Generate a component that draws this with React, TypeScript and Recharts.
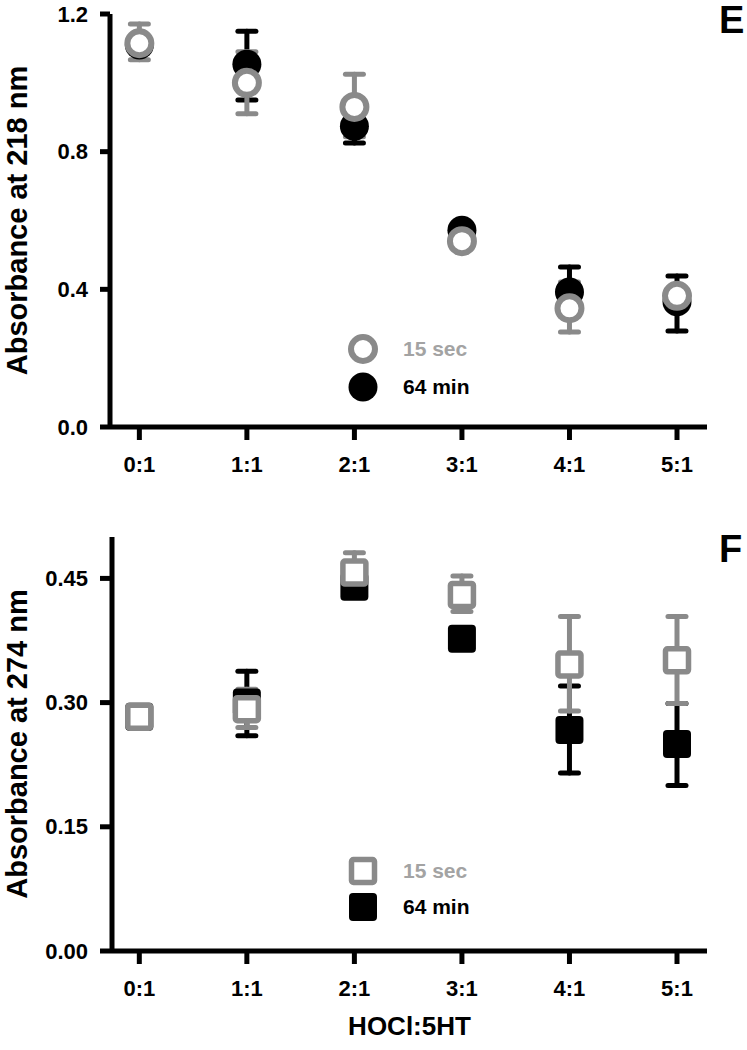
import React from 'react';
import { ScatterChart, Scatter, XAxis, YAxis, ErrorBar, Legend } from 'recharts';

const FONT = '"Liberation Sans", Arial, sans-serif';
const GREY = '#8a8a8a';
const GREY_TEXT = '#a3a3a3';

// HOCl:5HT molar ratios along x
const ratios = ['0:1', '1:1', '2:1', '3:1', '4:1', '5:1'];

// panel E - absorbance at 218 nm, error given as [below, above]
const a218Sec15 = [1.115, 1.0, 0.93, 0.54, 0.345, 0.381];
const a218Sec15Err = [[0.048, 0.056], [0.09, 0.09], [0.087, 0.095], [0.01, 0.01], [0.069, 0.076], [0.015, 0.015]];
const a218Min64 = [1.11, 1.054, 0.874, 0.572, 0.392, 0.364];
const a218Min64Err = [[0.02, 0.02], [0.104, 0.096], [0.049, 0.05], [0.01, 0.01], [0.07, 0.073], [0.085, 0.075]];
const a218Ticks = [0, 0.4, 0.8, 1.2];

// panel F - absorbance at 274 nm
const a274Sec15 = [0.283, 0.292, 0.457, 0.43, 0.346, 0.351];
const a274Sec15Err = [[0.005, 0.005], [0.022, 0.024], [0.021, 0.024], [0.02, 0.023], [0.056, 0.058], [0.052, 0.053]];
const a274Min64 = [0.283, 0.3, 0.44, 0.377, 0.267, 0.25];
const a274Min64Err = [[0.005, 0.005], [0.04, 0.038], [0.01, 0.01], [0.008, 0.008], [0.052, 0.053], [0.05, 0.049]];
const a274Ticks = [0, 0.15, 0.3, 0.45];

const toPoints = (vals: number[], errs: number[][]) =>
  vals.map((y, i) => ({ x: i, y, err: errs[i] }));

const OpenCircle = (p: any) => (
  <circle cx={p.cx} cy={p.cy} r={12} fill="#fff" stroke={GREY} strokeWidth={6} />
);
const FilledCircle = (p: any) => <circle cx={p.cx} cy={p.cy} r={14.5} fill="#000" />;
const OpenSquare = (p: any) => (
  <rect x={p.cx - 11.5} y={p.cy - 11.5} width={23} height={23} rx={2} fill="#fff" stroke={GREY} strokeWidth={5.5} />
);
const FilledSquare = (p: any) => (
  <rect x={p.cx - 14} y={p.cy - 14} width={28} height={28} rx={4} fill="#000" />
);

// tick labels drawn by hand so the size sticks
const XTick = ({ x, y, payload }: any) => (
  <text x={x} y={y + 7} textAnchor="middle" dominantBaseline="central"
    fontFamily={FONT} fontSize={22} fontWeight={700} fill="#000">
    {ratios[payload.value]}
  </text>
);
const makeYTick = (digits: number) => ({ x, y, payload }: any) => (
  <text x={x} y={y} textAnchor="end" dominantBaseline="central"
    fontFamily={FONT} fontSize={22} fontWeight={700} fill="#000">
    {payload.value.toFixed(digits)}
  </text>
);

function Panel(props: any) {
  const {
    top, height, plotTop, plotBottomGap, yWidth, xDomain, yDomain, yTicks, digits,
    yTitle, xTitle, letter, letterTop, sec15, min64, OpenShape, FilledShape, legendTop, legendGap,
  } = props;

  const legendContent = () => (
    <div style={{ position: 'relative', width: 160, height: legendGap * 2, fontFamily: FONT }}>
      {[
        { name: '15 sec', color: GREY_TEXT, Shape: OpenShape },
        { name: '64 min', color: '#000', Shape: FilledShape },
      ].map((item, i) => (
        <div key={item.name} style={{ position: 'absolute', left: 0, top: i * legendGap, height: legendGap, display: 'flex', alignItems: 'center' }}>
          <svg width={40} height={legendGap}>
            <item.Shape cx={20} cy={legendGap / 2} />
          </svg>
          <span style={{ marginLeft: 20, fontSize: 21, fontWeight: 700, color: item.color, lineHeight: `${legendGap}px` }}>
            {item.name}
          </span>
        </div>
      ))}
    </div>
  );

  return (
    <div style={{ position: 'absolute', left: 0, top, width: 747, height }}>
      <ScatterChart width={747} height={height} margin={{ top: plotTop, right: 40, bottom: 0, left: 0 }}>
        <XAxis
          type="number"
          dataKey="x"
          domain={xDomain}
          ticks={[0, 1, 2, 3, 4, 5]}
          allowDataOverflow
          height={plotBottomGap}
          axisLine={{ stroke: '#000', strokeWidth: 5 }}
          tickLine={{ stroke: '#000', strokeWidth: 5 }}
          tickSize={13}
          tickMargin={17}
          tick={<XTick />}
          label={
            xTitle
              ? {
                  content: ({ viewBox }: any) => (
                    <text
                      x={viewBox.x + viewBox.width / 2}
                      y={viewBox.y + 75}
                      textAnchor="middle"
                      dominantBaseline="central"
                      fontFamily={FONT}
                      fontSize={26}
                      fontWeight={700}
                      fill="#000"
                    >
                      {xTitle}
                    </text>
                  ),
                }
              : undefined
          }
        />
        <YAxis
          type="number"
          dataKey="y"
          domain={yDomain}
          ticks={yTicks}
          allowDataOverflow
          width={yWidth}
          axisLine={{ stroke: '#000', strokeWidth: 5 }}
          tickLine={{ stroke: '#000', strokeWidth: 5 }}
          tickSize={yWidth - 100}
          tickMargin={12}
          tick={makeYTick(digits)}
          label={{
            content: ({ viewBox }: any) => {
              const cy = viewBox.y + viewBox.height / 2;
              return (
                <text
                  x={17}
                  y={cy}
                  transform={`rotate(-90, 17, ${cy})`}
                  textAnchor="middle"
                  dominantBaseline="central"
                  fontFamily={FONT}
                  fontSize={29}
                  fontWeight={700}
                  fill="#000"
                >
                  {yTitle}
                </text>
              );
            },
          }}
        />
        <Legend
          layout="vertical"
          align="center"
          verticalAlign="middle"
          content={legendContent}
          wrapperStyle={{ left: 343, top: legendTop, width: 160 }}
        />
        <Scatter name="64 min" data={min64} shape={FilledShape} isAnimationActive={false}>
          <ErrorBar dataKey="err" direction="y" width={9} stroke="#000" strokeWidth={5} strokeLinecap="round" />
        </Scatter>
        <Scatter name="15 sec" data={sec15} shape={OpenShape} isAnimationActive={false}>
          <ErrorBar dataKey="err" direction="y" width={9} stroke={GREY} strokeWidth={5} strokeLinecap="round" />
        </Scatter>
      </ScatterChart>
      <div
        style={{
          position: 'absolute', left: 719, top: letterTop, fontFamily: FONT,
          fontSize: 38, fontWeight: 700, lineHeight: 1, color: '#000',
        }}
      >
        {letter}
      </div>
    </div>
  );
}

export default function App() {
  return (
    <div style={{ position: 'absolute', left: 0, top: 0, width: 747, height: 1050, background: '#fff' }}>
      <Panel
        top={0}
        height={490}
        plotTop={14}
        plotBottomGap={63}
        yWidth={110}
        xDomain={[-0.273, 5.279]}
        yDomain={[0, 1.2]}
        yTicks={a218Ticks}
        digits={1}
        yTitle="Absorbance at 218 nm"
        letter="E"
        letterTop={1}
        sec15={toPoints(a218Sec15, a218Sec15Err)}
        min64={toPoints(a218Min64, a218Min64Err)}
        OpenShape={OpenCircle}
        FilledShape={FilledCircle}
        legendTop={330}
        legendGap={38}
      />
      <Panel
        top={490}
        height={560}
        plotTop={47}
        plotBottomGap={99}
        yWidth={112}
        xDomain={[-0.254, 5.279]}
        yDomain={[0, 0.5]}
        yTicks={a274Ticks}
        digits={2}
        yTitle="Absorbance at 274 nm"
        xTitle="HOCl:5HT"
        letter="F"
        letterTop={40}
        sec15={toPoints(a274Sec15, a274Sec15Err)}
        min64={toPoints(a274Min64, a274Min64Err)}
        OpenShape={OpenSquare}
        FilledShape={FilledSquare}
        legendTop={363}
        legendGap={36}
      />
    </div>
  );
}
